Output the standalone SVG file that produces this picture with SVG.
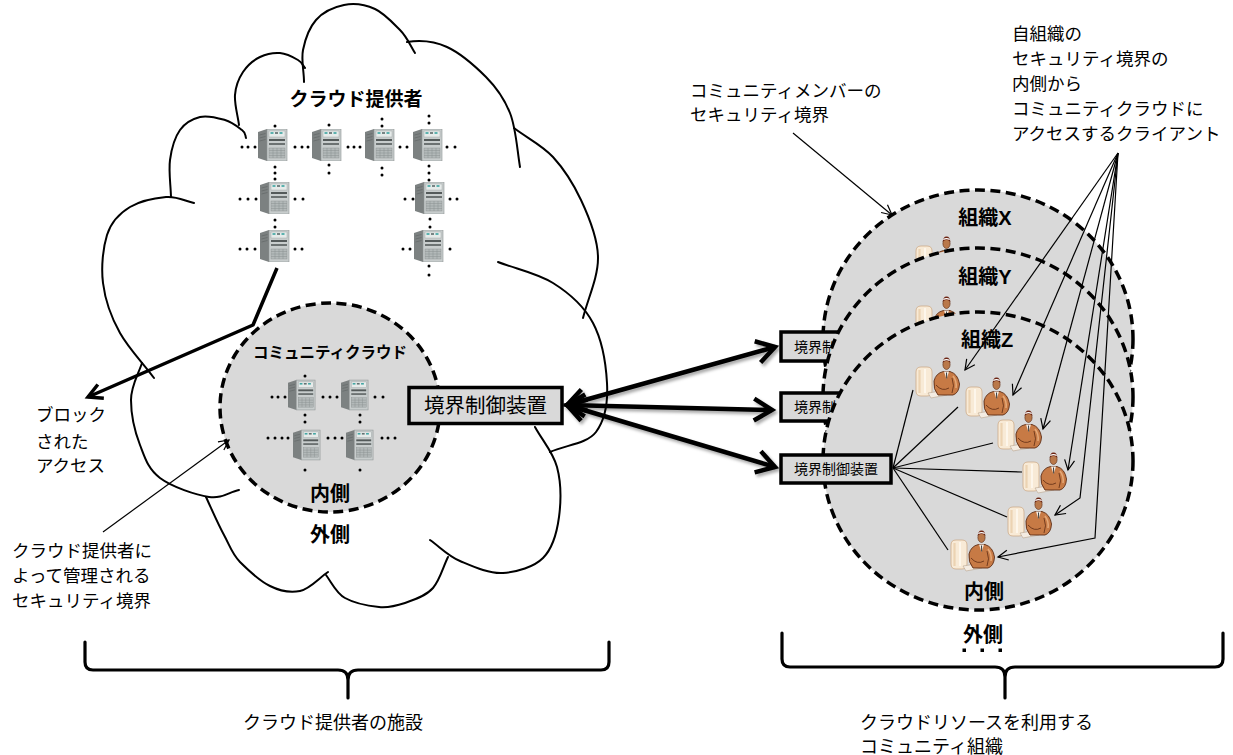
<svg xmlns="http://www.w3.org/2000/svg" xmlns:xlink="http://www.w3.org/1999/xlink" width="1233" height="755" viewBox="0 0 1233 755">
  <style>
    text { font-family: 'Liberation Sans', 'Noto Sans CJK JP', sans-serif; fill: #000; }
    .lbl { font-size: 17.5px; }
    .big { font-size: 18px; }
    .bold { font-weight: 700; }
    .cloud { fill: none; stroke: #000; stroke-width: 2; stroke-linecap: round; }
    .dash { stroke: #000; stroke-width: 3.5; stroke-dasharray: 10 5.5; fill: #d9d9d9; }
    .box { fill: #d9d9d9; stroke: #000; stroke-width: 3.5; }
    .thin { fill: none; stroke: #000; stroke-width: 1.2; }
    .thick { fill: none; stroke: #000; stroke-width: 4.5; }
    .brace { fill: none; stroke: #000; stroke-width: 3.2; stroke-linecap: round; }
  </style>
  <defs>
    <filter id="soft" x="-20%" y="-40%" width="140%" height="180%">
      <feDropShadow dx="2" dy="2.5" stdDeviation="1.6" flood-color="#000" flood-opacity="0.35"/>
    </filter>
    <marker id="bigHead" markerUnits="userSpaceOnUse" viewBox="0 0 30 30" markerWidth="30" markerHeight="30" refX="23" refY="15" orient="auto-start-reverse">
      <path d="M5,4 L23,15 L5,26" fill="none" stroke="#000" stroke-width="4.5"/>
    </marker>
    <marker id="blockHead" markerUnits="userSpaceOnUse" viewBox="0 0 24 24" markerWidth="24" markerHeight="24" refX="19" refY="12" orient="auto">
      <path d="M5,4.5 L19,12 L5,19.5" fill="none" stroke="#000" stroke-width="3.5"/>
    </marker>
    <marker id="thinHead" markerUnits="userSpaceOnUse" viewBox="0 0 14 14" markerWidth="14" markerHeight="14" refX="12" refY="7" orient="auto">
      <path d="M2,2 L12,7 L2,12" fill="none" stroke="#000" stroke-width="1.2"/>
    </marker>
    <!-- tower server icon -->
    <symbol id="srv" viewBox="0 0 30 32">
      <path d="M0,3 L9,0 L9,32 L0,29 Z" fill="#7c8181"/>
      <path d="M1.5,6 L7.5,4.5 M1.5,9 L7.5,7.5 M1.5,12 L7.5,10.5" stroke="#5e6363" stroke-width="0.6"/>
      <rect x="9" y="0" width="20" height="32" fill="#c8cdcd" stroke="#8e9393" stroke-width="0.6"/>
      <rect x="11" y="2" width="16" height="6" fill="#e6ebea" stroke="#9aa0a0" stroke-width="0.4"/>
      <rect x="12.5" y="3.2" width="3" height="1.6" fill="#3aa3a0"/>
      <rect x="17" y="3.2" width="3" height="1.6" fill="#5c6c6c"/>
      <rect x="21.5" y="3.2" width="3" height="1.6" fill="#3aa3a0"/>
      <rect x="11" y="10" width="16" height="2" fill="#545a5a"/>
      <rect x="11" y="14" width="16" height="2" fill="#6c7272"/>
      <rect x="11" y="19" width="16" height="10" fill="#b3b9b9" stroke="#868c8c" stroke-width="0.4"/>
      <path d="M11,21.5 H27 M11,24 H27 M11,26.5 H27 M15,19 V29 M19,19 V29 M23,19 V29" stroke="#8b9191" stroke-width="0.5"/>
    </symbol>
    <!-- person at a workstation -->
    <symbol id="client" viewBox="0 0 46 46">
      <path d="M1,17 Q1,12 6,12 L12,12 Q17,12 17,17 L17,36 Q17,41 12,41 L6,41 Q1,41 1,36 Z" fill="#f8ead6" stroke="#c8a47e" stroke-width="0.7"/>
      <path d="M4.5,15 L4.5,38" stroke="#ecd3b2" stroke-width="2.2"/>
      <path d="M10,14 L10,38" stroke="#fffaf2" stroke-width="1.5"/>
      <path d="M13,38 L29,35.5 L32,40 L16,43 Z" fill="#f4ece2" stroke="#b9a58e" stroke-width="0.6"/>
      <path d="M19,26 Q21,18 28.5,16.5 L35,16.5 Q43,19 44.5,29 Q44,38 38,40 L23,40 Q18,34 19,26 Z" fill="#c77a45" stroke="#5e2c14" stroke-width="0.9"/>
      <path d="M38,21 Q42,26 41,33" fill="none" stroke="#e4a877" stroke-width="1.6"/>
      <path d="M21,30 Q27,37 34,33 M37,23 Q40,31 37,38" fill="none" stroke="#5e2c14" stroke-width="0.8"/>
      <path d="M29,16.5 L31.5,24 L34,16.5 Z" fill="#f3ece4"/>
      <path d="M31.5,17.5 L31.7,23.5" stroke="#3a3a3a" stroke-width="1"/>
      <ellipse cx="31.5" cy="9.5" rx="3.6" ry="5" fill="#b9784a" stroke="#5a2a10" stroke-width="0.6"/>
      <path d="M27.7,8 Q28,2.5 31.5,2.5 Q35.3,2.5 35.3,8 Q33.5,5.5 31.5,6 Q29.5,5.5 27.7,8 Z" fill="#6b2412"/>
      <path d="M28.3,5.5 Q31.5,3.8 34.7,5.5" fill="none" stroke="#fff" stroke-width="1.1"/>
    </symbol>
  </defs>

  <rect width="1233" height="755" fill="#fff"/>

  <!-- provider cloud outline -->
  <g id="provider-cloud">
    <path class="cloud" d="M304,82 C304,71 301,60 303,50 S309,28 316,20 S334,7 344,5 S366,5 375,9 S393,23 400,30 S410,45 415,53"/>
    <path class="cloud" d="M407,42 C420,40 434,41 447,47 S475,66 486,77 S504,98 510,113 S517,149 520,167"/>
    <path class="cloud" d="M514,128 C527,138 542,145 553,157 S573,183 581,200 S598,238 598,258 S588,298 583,318"/>
    <path class="cloud" d="M498,262 C516,269 537,273 553,283 S584,306 593,323 S606,365 607,383 S605,420 596,432 S565,445 550,452"/>
    <path class="cloud" d="M535,427 C542,440 553,452 557,467 S561,502 559,517 S552,549 543,558 S517,572 503,573 S472,566 460,561 S440,547 430,540"/>
    <path class="cloud" d="M448,557 C443,567 440,580 433,588 S414,600 405,603 S389,608 379,607 S354,603 345,598 S332,583 326,575"/>
    <path class="cloud" d="M328,572 C319,578 310,589 300,591 S280,591 270,586 S248,570 240,562 S230,546 224,535 S212,510 206,497"/>
    <path class="cloud" d="M142,363 C138,375 131,386 131,400 S135,432 140,445 S148,469 160,478 S196,495 209,497 S229,492 239,490"/>
    <path class="cloud" d="M194,203 C185,201 177,196 166,197 S140,201 130,207 S111,222 107,235 S101,267 103,283 S111,317 120,333 S143,363 154,378"/>
    <path class="cloud" d="M171,197 C170.7,185 168.5,171 170,160 S175,137 180,130 S192,119 200,117 S218,118 225,120 S238,127 242,130 S245,135 246,138"/>
    <path class="cloud" d="M239,125 C237.7,115 234.3,104 235,95 S238.8,78.3 243,72 S253.8,60 260,57 S273.7,52.5 280,53 S293.8,57.5 298,60 S302.7,65.3 305,68"/>
    <text class="bold" x="356" y="106" font-size="19" text-anchor="middle">クラウド提供者</text>
  </g>

  <!-- provider server grid -->
  <g id="provider-servers">
    <use href="#srv" x="258" y="129" width="30" height="32"/>
    <use href="#srv" x="312" y="129" width="30" height="32"/>
    <use href="#srv" x="365" y="129" width="30" height="32"/>
    <use href="#srv" x="413" y="129" width="30" height="32"/>
    <use href="#srv" x="260" y="182" width="30" height="32"/>
    <use href="#srv" x="415" y="182" width="30" height="32"/>
    <use href="#srv" x="260" y="230" width="30" height="32"/>
    <use href="#srv" x="414" y="230" width="30" height="32"/>
    <g fill="#000">
      <circle cx="242" cy="147" r="1.5"/><circle cx="248" cy="147" r="1.5"/><circle cx="255" cy="147" r="1.5"/>
      <circle cx="295" cy="147" r="1.5"/><circle cx="302" cy="147" r="1.5"/><circle cx="308" cy="147" r="1.5"/>
      <circle cx="348" cy="147" r="1.5"/><circle cx="354" cy="147" r="1.5"/><circle cx="360" cy="147" r="1.5"/>
      <circle cx="400" cy="147" r="1.5"/><circle cx="407" cy="147" r="1.5"/>
      <circle cx="447" cy="147" r="1.5"/><circle cx="455" cy="147" r="1.5"/>
      <circle cx="275" cy="126" r="1.5"/>
      <circle cx="275" cy="167" r="1.5"/><circle cx="275" cy="173" r="1.5"/><circle cx="275" cy="179" r="1.5"/>
      <circle cx="329" cy="125" r="1.5"/>
      <circle cx="329" cy="165" r="1.5"/><circle cx="329" cy="173" r="1.5"/>
      <circle cx="382" cy="119" r="1.5"/><circle cx="382" cy="126" r="1.5"/>
      <circle cx="382" cy="168" r="1.5"/><circle cx="382" cy="175" r="1.5"/>
      <circle cx="429" cy="116" r="1.5"/><circle cx="429" cy="123" r="1.5"/>
      <circle cx="429" cy="166" r="1.5"/><circle cx="429" cy="173" r="1.5"/><circle cx="429" cy="180" r="1.5"/>
      <circle cx="240" cy="199" r="1.5"/><circle cx="248" cy="199" r="1.5"/><circle cx="256" cy="199" r="1.5"/>
      <circle cx="295" cy="199" r="1.5"/><circle cx="303" cy="199" r="1.5"/>
      <circle cx="275" cy="220" r="1.5"/><circle cx="275" cy="227" r="1.5"/>
      <circle cx="405" cy="199" r="1.5"/><circle cx="413" cy="199" r="1.5"/>
      <circle cx="450" cy="199" r="1.5"/><circle cx="457" cy="199" r="1.5"/>
      <circle cx="430" cy="219" r="1.5"/><circle cx="430" cy="227" r="1.5"/>
      <circle cx="240" cy="249" r="1.5"/><circle cx="247" cy="249" r="1.5"/><circle cx="255" cy="249" r="1.5"/>
      <circle cx="295" cy="249" r="1.5"/><circle cx="302" cy="249" r="1.5"/>
      <circle cx="403" cy="249" r="1.5"/><circle cx="410" cy="249" r="1.5"/>
      <circle cx="450" cy="249" r="1.5"/>
      <circle cx="429" cy="266" r="1.5"/><circle cx="429" cy="275" r="1.5"/>
    </g>
  </g>

  <!-- community cloud boundary -->
  <g id="community-cloud">
    <ellipse class="dash" cx="330" cy="407.5" rx="110" ry="104.5"/>
    <text class="bold" x="330" y="358" font-size="15.5" text-anchor="middle">コミュニティクラウド</text>
    <use href="#srv" x="288" y="379" width="28" height="32"/>
    <use href="#srv" x="341" y="379" width="28" height="32"/>
    <use href="#srv" x="293" y="429" width="28" height="32"/>
    <use href="#srv" x="346" y="429" width="28" height="32"/>
    <g fill="#000">
      <circle cx="272" cy="397" r="1.5"/><circle cx="278" cy="397" r="1.5"/><circle cx="285" cy="397" r="1.5"/>
      <circle cx="323" cy="397" r="1.5"/><circle cx="330" cy="397" r="1.5"/><circle cx="337" cy="397" r="1.5"/>
      <circle cx="375" cy="397" r="1.5"/><circle cx="383" cy="397" r="1.5"/>
      <circle cx="305" cy="376" r="1.5"/>
      <circle cx="305" cy="415" r="1.5"/><circle cx="305" cy="422" r="1.5"/>
      <circle cx="360" cy="415" r="1.5"/><circle cx="360" cy="422" r="1.5"/>
      <circle cx="268" cy="438" r="1.5"/><circle cx="275" cy="438" r="1.5"/><circle cx="282" cy="438" r="1.5"/><circle cx="288" cy="438" r="1.5"/>
      <circle cx="328" cy="438" r="1.5"/><circle cx="335" cy="438" r="1.5"/><circle cx="342" cy="438" r="1.5"/>
      <circle cx="382" cy="438" r="1.5"/><circle cx="388" cy="438" r="1.5"/><circle cx="395" cy="438" r="1.5"/>
      <circle cx="305" cy="470" r="1.5"/><circle cx="360" cy="470" r="1.5"/>
    </g>
    <text class="bold" x="330" y="501" font-size="20" text-anchor="middle">内側</text>
    <text class="bold" x="330" y="542" font-size="20" text-anchor="middle">外側</text>
  </g>

  <!-- provider boundary controller -->
  <g id="provider-gateway">
    <rect class="box" x="409" y="387.5" width="153" height="36"/>
    <text x="485.5" y="413" font-size="20.5" text-anchor="middle">境界制御装置</text>
  </g>

  <!-- organisation X -->
  <g id="org-x">
    <ellipse class="dash" cx="978" cy="339" rx="155" ry="149"/>
    <text class="bold" x="985" y="225" font-size="20" text-anchor="middle">組織X</text>
    <use href="#client" x="915" y="234" width="46" height="46"/>
  </g>
  <g id="gateway-x">
    <rect class="box" x="781" y="332" width="110" height="29"/>
    <text x="836" y="352" font-size="14" text-anchor="middle">境界制御装置</text>
  </g>

  <!-- organisation Y -->
  <g id="org-y">
    <ellipse class="dash" cx="978" cy="397" rx="155" ry="149"/>
    <text class="bold" x="985" y="284" font-size="20" text-anchor="middle">組織Y</text>
    <use href="#client" x="915" y="294" width="46" height="46"/>
  </g>
  <g id="gateway-y">
    <rect class="box" x="781" y="393" width="110" height="28"/>
    <text x="836" y="412" font-size="14" text-anchor="middle">境界制御装置</text>
  </g>

  <!-- organisation Z -->
  <g id="org-z">
    <ellipse class="dash" cx="978" cy="461" rx="155" ry="149"/>
    <text class="bold" x="987" y="347" font-size="20" text-anchor="middle">組織Z</text>
    <use href="#client" x="915" y="355" width="46" height="46"/>
    <use href="#client" x="965" y="375" width="46" height="46"/>
    <use href="#client" x="997" y="408" width="46" height="46"/>
    <use href="#client" x="1022" y="450" width="46" height="46"/>
    <use href="#client" x="1007" y="495" width="46" height="46"/>
    <use href="#client" x="950" y="528" width="46" height="46"/>
    <text class="bold" x="984" y="599" font-size="20" text-anchor="middle">内側</text>
  </g>
  <g id="gateway-z">
    <rect class="box" x="781" y="455" width="110" height="28"/>
    <text x="836" y="474" font-size="14" text-anchor="middle">境界制御装置</text>
  </g>

  <g id="community-outside">
    <text class="bold" x="983" y="642" font-size="20" text-anchor="middle">外側</text>
    <g fill="#000">
      <rect x="962.5" y="648.5" width="3.5" height="3.5"/>
      <rect x="980.5" y="648.5" width="3.5" height="3.5"/>
      <rect x="998.5" y="648.5" width="3.5" height="3.5"/>
    </g>
  </g>

  <!-- connectors -->
  <g id="connectors">
    <path d="M277,268 L253,325 L88,397" fill="none" stroke="#000" stroke-width="3.5" stroke-linejoin="round" marker-end="url(#blockHead)"/>
    <line class="thin" x1="103" y1="532" x2="229" y2="440" marker-end="url(#thinHead)"/>
    <line class="thin" x1="793" y1="133" x2="892" y2="215" marker-end="url(#thinHead)"/>
    <g filter="url(#soft)">
      <line class="thick" x1="567" y1="405" x2="775" y2="347" marker-start="url(#bigHead)" marker-end="url(#bigHead)"/>
      <line class="thick" x1="567" y1="405" x2="772" y2="410" marker-start="url(#bigHead)" marker-end="url(#bigHead)"/>
      <line class="thick" x1="567" y1="405" x2="775" y2="467" marker-start="url(#bigHead)" marker-end="url(#bigHead)"/>
    </g>
    <g class="thin">
      <line x1="893" y1="468" x2="913" y2="390"/>
      <line x1="893" y1="468" x2="958" y2="407"/>
      <line x1="893" y1="468" x2="993" y2="443"/>
      <line x1="893" y1="468" x2="1022" y2="472"/>
      <line x1="893" y1="468" x2="1007" y2="517"/>
      <line x1="893" y1="468" x2="948" y2="550"/>
    </g>
    <g class="thin" marker-end="url(#thinHead)">
      <line x1="1118" y1="153" x2="965" y2="370"/>
      <line x1="1118" y1="153" x2="1013" y2="395"/>
      <line x1="1118" y1="153" x2="1043" y2="429"/>
      <line x1="1118" y1="153" x2="1068" y2="470"/>
      <polyline points="1118,153 1080,498 1055,515"/>
      <polyline points="1118,153 1095,538 998,557"/>
    </g>
  </g>

  <!-- annotations -->
  <g id="labels">
    <text class="lbl" x="36" y="421">ブロック</text>
    <text class="lbl" x="36" y="448">された</text>
    <text class="lbl" x="36" y="472">アクセス</text>
    <text class="lbl" x="12" y="557">クラウド提供者に</text>
    <text class="lbl" x="12" y="582">よって管理される</text>
    <text class="lbl" x="12" y="607">セキュリティ境界</text>
    <text class="lbl" x="690" y="97">コミュニティメンバーの</text>
    <text class="lbl" x="690" y="121">セキュリティ境界</text>
    <text class="lbl" x="1012" y="40">自組織の</text>
    <text class="lbl" x="1012" y="65">セキュリティ境界の</text>
    <text class="lbl" x="1012" y="90">内側から</text>
    <text class="lbl" x="1012" y="115">コミュニティクラウドに</text>
    <text class="lbl" x="1012" y="140">アクセスするクライアント</text>
  </g>

  <!-- grouping braces -->
  <g id="provider-premises">
    <path class="brace" d="M85,642 V662 Q85,670 93,670 H338 Q348,670 348,680 V698 M348,680 Q348,670 358,670 H601 Q609,670 609,662 V642"/>
    <text class="big" x="333" y="729" text-anchor="middle">クラウド提供者の施設</text>
  </g>
  <g id="community-orgs">
    <path class="brace" d="M782,633 V659 Q782,667 790,667 H995 Q1005,667 1005,677 V698 M1005,677 Q1005,667 1015,667 H1215 Q1223,667 1223,659 V633"/>
    <text class="big" x="860" y="729">クラウドリソースを利用する</text>
    <text class="big" x="860" y="753">コミュニティ組織</text>
  </g>
</svg>
